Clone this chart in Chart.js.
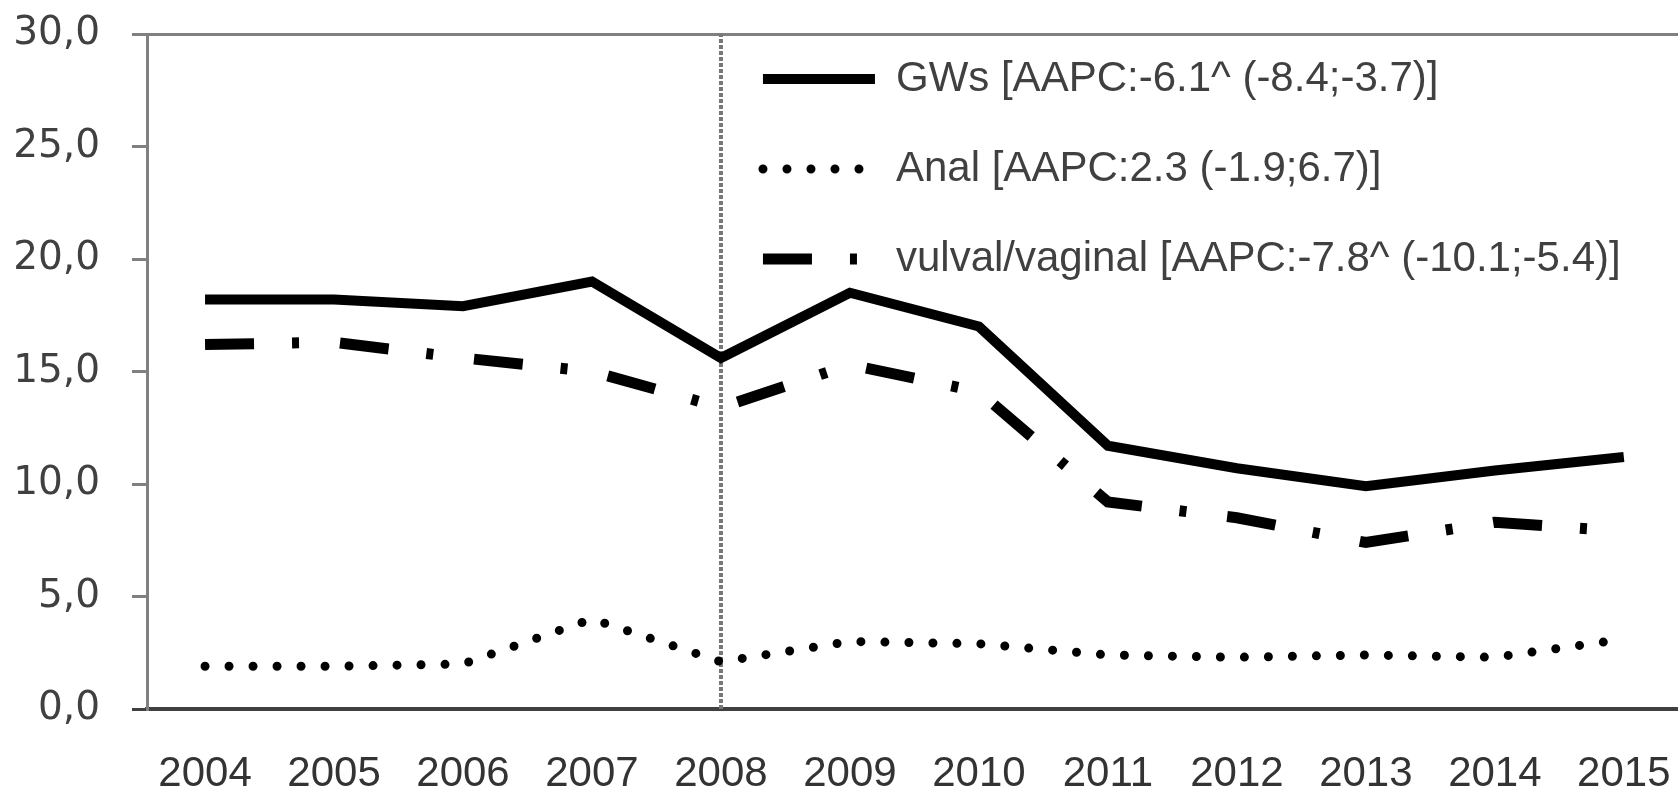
<!DOCTYPE html>
<html>
<head>
<meta charset="utf-8">
<script src="https://cdn.jsdelivr.net/npm/chart.js@4.4.1/dist/chart.umd.min.js"></script>
<style>
  html, body { margin: 0; padding: 0; background: #fff; }
  #wrap { width: 1678px; height: 792px; position: relative; }
</style>
</head>
<body>
<div id="wrap"><canvas id="lineChart"></canvas></div>
<script>
// values
const years = [2004, 2005, 2006, 2007, 2008, 2009, 2010, 2011, 2012, 2013, 2014, 2015];
const gwsValues = [18.2, 18.2, 17.9, 19.0, 15.6, 18.5, 17.0, 11.7, 10.7, 9.9, 10.6, 11.2];
const analValues = [1.9, 1.9, 2.0, 4.0, 2.1, 3.0, 2.9, 2.4, 2.3, 2.4, 2.3, 3.1];
const vulvalValues = [16.2, 16.3, 15.6, 15.0, 13.4, 15.3, 14.1, 9.2, 8.5, 7.4, 8.3, 7.9];
const seriesNames = [
    'GWs [AAPC:-6.1^ (-8.4;-3.7)]',
    'Anal [AAPC:2.3 (-1.9;6.7)]',
    'vulval/vaginal [AAPC:-7.8^ (-10.1;-5.4)]'
];
const yMin = 0;
const yMax = 30;
const yStep = 5;
const markerYear = 2008;

const toPoints = (values) => values.map((v, i) => ({ x: years[i], y: v }));

// put the legend inside the plot, just right of the 2008 marker line
const legendInPlot = {
    id: 'legendInPlot',
    afterLayout(chart) {
        const lg = chart.legend;
        if (!lg) return;
        lg.left = chart.scales.x.getPixelForValue(markerYear) - 6;
        lg.top = 10;
    }
};

// legend samples take the dash / cap of the line itself
const lineLegendItems = (chart) => {
    const items = Chart.defaults.plugins.legend.labels.generateLabels(chart);
    return items.map(item => {
        const ds = chart.data.datasets[item.datasetIndex];
        item.lineDash = ds.borderDash || [];
        item.lineCap = ds.borderCapStyle || 'butt';
        item.lineWidth = ds.borderWidth;
        item.strokeStyle = ds.borderColor;
        item.pointStyle = 'line';
        return item;
    });
};

const ctx = document.getElementById('lineChart').getContext('2d');

new Chart(ctx, {
    type: 'line',
    data: {
        datasets: [
            {
                label: seriesNames[0],
                data: toPoints(gwsValues),
                borderColor: '#000',
                backgroundColor: '#000',
                borderWidth: 10,
                borderJoinStyle: 'miter',
                pointRadius: 0
            },
            {
                label: seriesNames[1],
                data: toPoints(analValues),
                borderColor: '#000',
                backgroundColor: '#000',
                borderWidth: 9,
                borderDash: [0, 24],
                borderCapStyle: 'round',
                pointRadius: 0
            },
            {
                label: seriesNames[2],
                data: toPoints(vulvalValues),
                borderColor: '#000',
                backgroundColor: '#000',
                borderWidth: 11,
                borderDash: [49, 38, 7, 41],
                borderCapStyle: 'butt',
                pointRadius: 0
            },
            {
                label: 'marker',
                data: [{ x: markerYear, y: yMin }, { x: markerYear, y: yMax }],
                borderColor: '#777',
                borderWidth: 4,
                borderDash: [4, 2],
                pointRadius: 0
            }
        ]
    },
    options: {
        responsive: true,
        maintainAspectRatio: false,
        animation: false,
        layout: {
            padding: { left: 13, right: 0, top: 34, bottom: 0 }
        },
        plugins: {
            tooltip: { enabled: false },
            legend: {
                display: true,
                position: 'chartArea',
                align: 'start',
                labels: {
                    filter: (item) => item.datasetIndex < 3,
                    generateLabels: lineLegendItems,
                    usePointStyle: true,
                    pointStyle: 'line',
                    pointStyleWidth: 112,
                    padding: 48,
                    color: '#404040',
                    font: { family: 'Liberation Sans', size: 42 }
                }
            }
        },
        scales: {
            x: {
                type: 'linear',
                min: 2003.55,
                max: 2015.42,
                afterFit: (s) => { s.height = 83; s.paddingLeft = 0; s.paddingRight = 0; },
                grid: { display: false, drawTicks: false },
                border: { display: true, color: '#404040', width: 4 },
                ticks: {
                    stepSize: 1,
                    includeBounds: false,
                    autoSkip: false,
                    maxRotation: 0,
                    padding: 40,
                    color: '#333',
                    font: { family: 'Liberation Sans', size: 42 },
                    callback: (v) => String(v)
                }
            },
            y: {
                min: yMin,
                max: yMax,
                afterFit: (s) => { s.width = 134; s.paddingTop = 0; s.paddingBottom = 0; },
                grid: {
                    color: (c) => c.tick && c.tick.value === yMax ? '#808080' : 'transparent',
                    tickColor: (c) => c.tick && c.tick.value === yMin ? '#404040' : '#808080',
                    lineWidth: 3,
                    tickWidth: 3,
                    tickLength: 15
                },
                border: { display: true, color: '#808080', width: 3 },
                ticks: {
                    stepSize: yStep,
                    padding: 32,
                    color: '#404040',
                    font: { family: 'DejaVu Sans', size: 39 },
                    callback: (v) => v.toFixed(1).replace('.', ',')
                }
            }
        }
    },
    plugins: [legendInPlot]
});
</script>
</body>
</html>
